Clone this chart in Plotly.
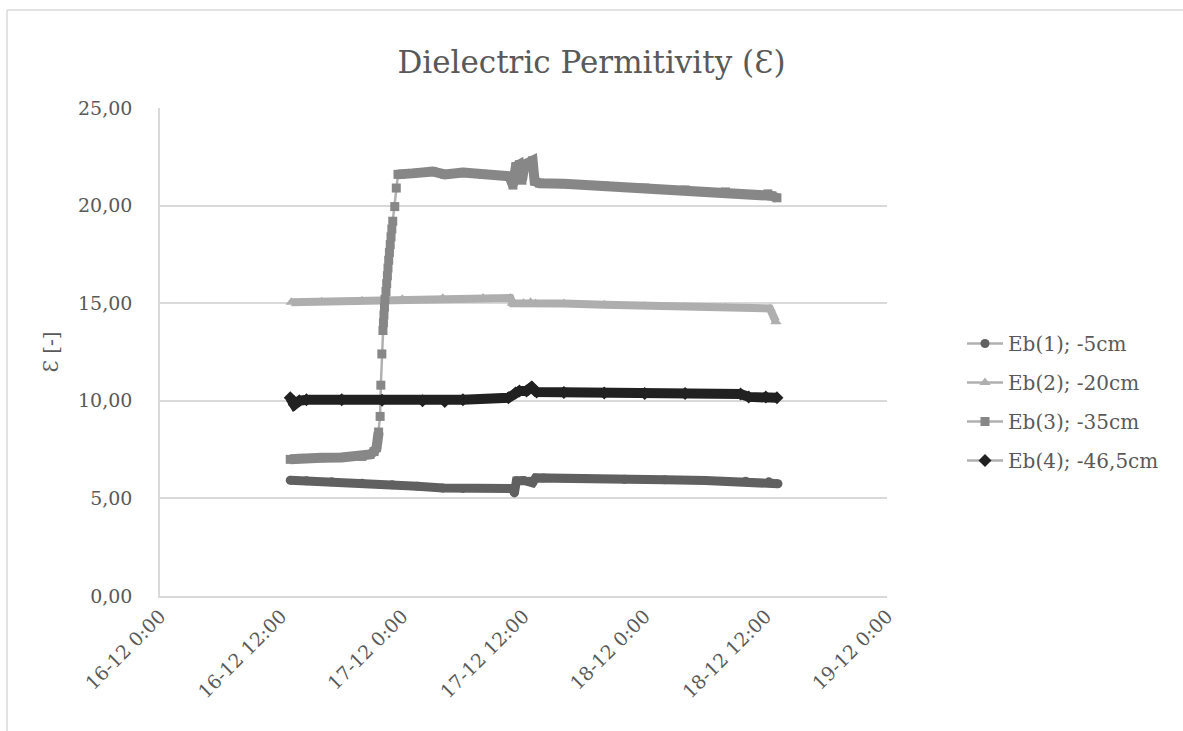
import pandas as pd
import plotly.graph_objects as go

START = pd.Timestamp("2019-12-16 00:00")

# Elapsed hours since 16-12 0:00 and dielectric permittivity per probe depth
eb1_hours = [12.9, 14.5, 17.0, 20.0, 23.0, 25.5, 28.0, 30.0, 34.5, 34.9, 35.1, 35.3,
             36.0, 36.6, 36.9, 37.2, 38.0, 42.0, 46.0, 50.0, 54.0, 58.0, 60.3, 60.7, 61.2]
eb1_values = [5.93, 5.9, 5.85, 5.78, 5.7, 5.62, 5.53, 5.51, 5.51, 5.51, 5.28, 5.9,
              5.92, 5.88, 5.8, 6.05, 6.05, 6.02, 5.98, 5.95, 5.92, 5.88, 5.85, 5.78, 5.75]

eb2_hours = [13.0, 16.0, 20.0, 24.0, 28.0, 32.0, 34.7, 34.9, 36.0, 36.7, 37.2, 40.0,
             44.0, 48.0, 52.0, 56.0, 60.4, 61.0]
eb2_values = [15.05, 15.08, 15.12, 15.2, 15.25, 15.27, 15.27, 15.0, 15.0, 15.05, 14.98, 14.98,
              14.92, 14.85, 14.8, 14.77, 14.73, 14.05]

eb3_hours = [12.9, 14.0, 16.0, 18.0, 20.0, 20.8, 21.2, 21.45, 21.55, 21.65,
             21.8, 21.87, 21.97, 22.08, 22.13, 22.18, 22.23, 22.28, 22.38, 22.45,
             22.52, 22.58, 22.65, 22.72, 22.8, 22.88, 22.96, 23.05, 23.25, 23.4, 23.57,
             23.8, 25.0, 27.0, 28.2, 30.0, 32.0, 34.6, 34.95, 35.25, 35.6, 35.85, 36.1,
             36.9, 37.1, 37.6, 40.0, 44.0, 48.0, 52.0, 56.0, 60.2, 60.6, 61.1]
eb3_values = [7.0, 7.05, 7.08, 7.1, 7.15, 7.25, 7.4, 7.6, 8.0, 8.4,
              9.2, 10.8, 12.4, 13.6, 14.0, 14.4, 14.8, 15.2, 15.6, 16.0,
              16.4, 16.8, 17.2, 17.6, 18.0, 18.4, 18.8, 19.2, 19.95, 20.9, 21.6,
              21.6, 21.65, 21.75, 21.6, 21.7, 21.6, 21.5, 21.05, 22.0, 22.1, 21.3, 22.1,
              22.3, 21.25, 21.15, 21.12, 21.0, 20.9, 20.8, 20.7, 20.6, 20.5, 20.4]
# the fast rise between these indices is drawn sample by sample
EB3_RISE_FROM = 9
EB3_RISE_TO = 30

eb4_hours = [12.9, 13.3, 13.8, 14.5, 18.0, 22.0, 26.0, 28.2, 30.0, 34.5, 35.2, 35.6,
             36.3, 36.8, 37.3, 40.0, 44.0, 48.0, 52.0, 57.5, 58.3, 60.0, 61.1]
eb4_values = [10.15, 9.8, 10.0, 10.05, 10.05, 10.03, 10.0, 9.97, 10.05, 10.15, 10.4, 10.5,
              10.5, 10.7, 10.45, 10.43, 10.4, 10.38, 10.38, 10.35, 10.2, 10.2, 10.15]

series_names = ["Eb(1); -5cm", "Eb(2); -20cm", "Eb(3); -35cm", "Eb(4); -46,5cm"]

x_tick_times = ["2019-12-16 00:00", "2019-12-16 12:00", "2019-12-17 00:00",
                "2019-12-17 12:00", "2019-12-18 00:00", "2019-12-18 12:00",
                "2019-12-19 00:00"]
x_tick_labels = ["16-12 0:00", "16-12 12:00", "17-12 0:00", "17-12 12:00",
                 "18-12 0:00", "18-12 12:00", "19-12 0:00"]
y_tick_values = [0, 5, 10, 15, 20, 25]
y_tick_labels = ["0,00", "5,00", "10,00", "15,00", "20,00", "25,00"]

FONT = "DejaVu Serif"
TEXT = "#595959"
GRID = "#d9d9d9"
CONNECTOR = "#b0b0b0"


def to_time(hours):
    return [START + pd.Timedelta(hours=h) for h in hours]


styles = [
    dict(hours=eb1_hours, values=eb1_values, color="#606060", symbol="circle", size=9,
         band=9, segments=[(0, None)]),
    dict(hours=eb2_hours, values=eb2_values, color="#aeaeae", symbol="triangle-up", size=10,
         band=8, segments=[(0, None)]),
    dict(hours=eb3_hours, values=eb3_values, color="#878787", symbol="square", size=9,
         band=10, segments=[(0, EB3_RISE_FROM + 1), (EB3_RISE_TO, None)]),
    dict(hours=eb4_hours, values=eb4_values, color="#212121", symbol="diamond", size=10,
         band=10, segments=[(0, None)]),
]

fig = go.Figure()
for i, (name, s) in enumerate(zip(series_names, styles)):
    t = to_time(s["hours"])
    group = f"probe{i + 1}"
    # individual samples joined by the thin connector line
    fig.add_trace(go.Scatter(
        x=t, y=s["values"], name=name, mode="lines+markers", legendgroup=group,
        line=dict(color=CONNECTOR, width=2.5),
        marker=dict(symbol=s["symbol"], size=s["size"], color=s["color"],
                    line=dict(width=0)),
    ))
    # dense logging merges the markers into a solid band
    for a, b in s["segments"]:
        fig.add_trace(go.Scatter(
            x=t[a:b], y=s["values"][a:b], mode="lines", showlegend=False,
            legendgroup=group, hoverinfo="skip",
            line=dict(color=s["color"], width=s["band"]),
        ))

# chart frame (top and left edges)
L, R, T, B = 160, 887, 108, 596
def px_x(v):
    return (v - L) / (R - L)
def px_y(v):
    return (B - v) / (B - T)

fig.add_shape(type="line", xref="paper", yref="paper",
              x0=px_x(7), x1=px_x(1183), y0=px_y(10), y1=px_y(10),
              line=dict(color=GRID, width=1.5))
fig.add_shape(type="line", xref="paper", yref="paper",
              x0=px_x(7), x1=px_x(7), y0=px_y(10), y1=px_y(731),
              line=dict(color=GRID, width=1.5))

fig.update_layout(
    width=1183, height=731,
    margin=dict(l=L, r=1183 - R, t=T, b=731 - B),
    paper_bgcolor="white", plot_bgcolor="white",
    font=dict(family=FONT, color=TEXT, size=19),
    title=dict(text="Dielectric Permitivity (Ɛ)", x=0.5, xref="container",
               xanchor="center", y=1 - 62 / 731, yanchor="middle",
               font=dict(family=FONT, size=31, color=TEXT)),
    legend=dict(x=px_x(962), xanchor="left", y=px_y(402), yanchor="middle",
                font=dict(family=FONT, size=20, color=TEXT),
                bgcolor="rgba(0,0,0,0)", tracegroupgap=10, itemwidth=36),
    showlegend=True,
)

fig.update_xaxes(
    type="date", range=[x_tick_times[0], x_tick_times[-1]],
    tickmode="array", tickvals=x_tick_times, ticktext=x_tick_labels,
    tickangle=-45, ticks="", showgrid=False, zeroline=False,
    showline=True, linecolor=GRID, linewidth=1.5,
    tickfont=dict(family=FONT, size=19, color=TEXT),
)
fig.update_yaxes(
    range=[0, 25], tickmode="array", tickvals=y_tick_values, ticktext=y_tick_labels,
    ticks="", ticklabelstandoff=22, showgrid=True, gridcolor=GRID, gridwidth=1.5,
    zeroline=False, showline=True, linecolor=GRID, linewidth=1.5,
    tickfont=dict(family=FONT, size=19, color=TEXT),
    title=dict(text="Ɛ [-]", standoff=14, font=dict(family=FONT, size=20, color=TEXT)),
)

fig.write_html("out.html")
